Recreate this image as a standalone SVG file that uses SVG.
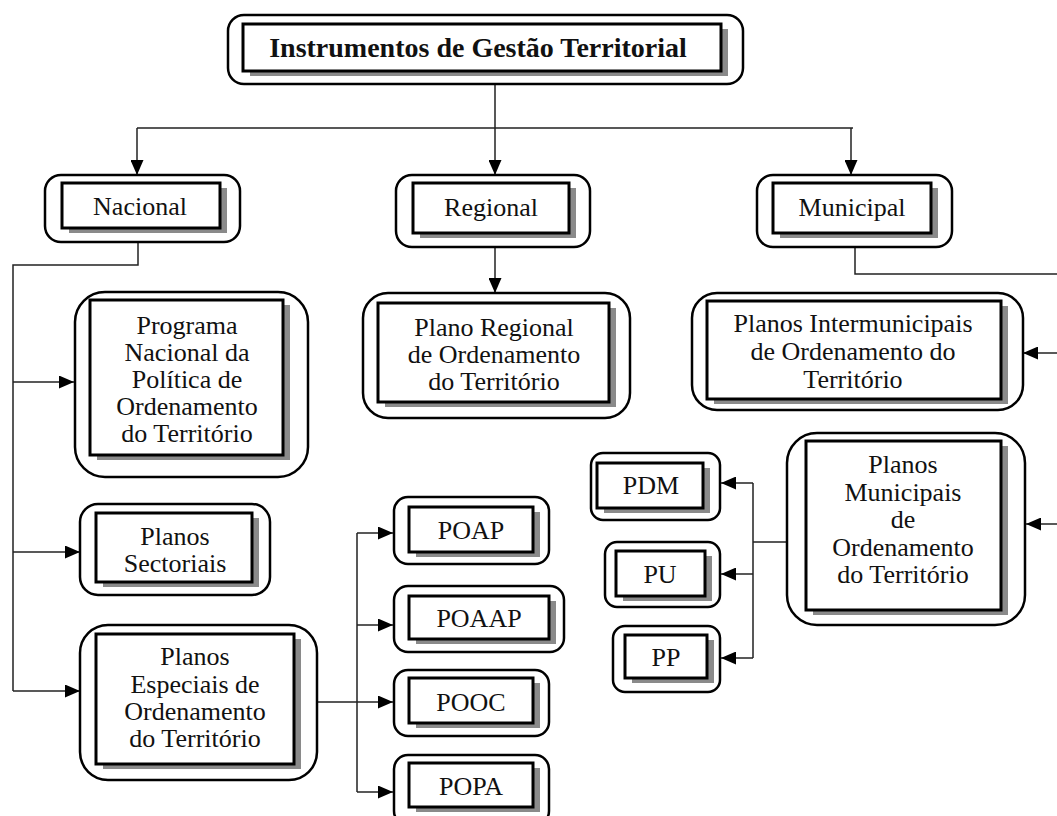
<svg xmlns="http://www.w3.org/2000/svg" width="1057" height="816" viewBox="0 0 1057 816">
<style>
.outer{fill:#fff;stroke:#000;stroke-width:2.5}
.shadow{fill:#8a8a8a}
.inner{fill:#fff;stroke:#000;stroke-width:3}
.t{font-family:"Liberation Serif","Times New Roman",serif;font-size:26px;text-anchor:middle;fill:#111}
.b{font-weight:bold;font-size:28px}
.conn{stroke:#222;stroke-width:1.5;fill:none}
.arr{marker-end:url(#ah)}
</style>
<defs>
<marker id="ah" markerUnits="userSpaceOnUse" markerWidth="15" markerHeight="13" refX="15" refY="6.5" orient="auto">
<path d="M0,0 L15,6.5 L0,13 z" fill="#000"/>
</marker>
</defs>
<rect width="1057" height="816" fill="#fff"/>
<g id="connectors">
<path class="conn" d="M495,84 V128 M137,128 H853"/>
<path class="conn arr" d="M137,128 V175"/>
<path class="conn arr" d="M495,128 V175"/>
<path class="conn arr" d="M851,128 V175"/>
<path class="conn" d="M138,242 V265 H13 V691"/>
<path class="conn arr" d="M13,382 H74"/>
<path class="conn arr" d="M13,552 H80"/>
<path class="conn arr" d="M13,691 H80"/>
<path class="conn arr" d="M495,247 V293"/>
<path class="conn" d="M855,247 V274 H1057"/>
<path class="conn arr" d="M1057,353 H1023"/>
<path class="conn arr" d="M1057,524 H1026"/>
<path class="conn" d="M317,702 H357 M357,533 V792"/>
<path class="conn arr" d="M357,533 H393"/>
<path class="conn arr" d="M357,625 H393"/>
<path class="conn arr" d="M357,702 H393"/>
<path class="conn arr" d="M357,792 H393"/>
<path class="conn" d="M787,542 H753 M753,483 V658"/>
<path class="conn arr" d="M753,483 H721"/>
<path class="conn arr" d="M753,574 H721"/>
<path class="conn arr" d="M753,658 H721"/>
</g>
<g id="n-titulo">
<rect class="outer" x="228" y="15" width="515" height="69" rx="16"/>
<rect class="shadow" x="250" y="29" width="478" height="47"/>
<rect class="inner" x="243" y="24" width="478" height="47"/>
<text class="t b" x="478" y="57">Instrumentos de Gestão Territorial</text>
</g>
<g id="n-nacional">
<rect class="outer" x="45" y="175" width="195" height="67" rx="16"/>
<rect class="shadow" x="69" y="188" width="158" height="45"/>
<rect class="inner" x="62" y="183" width="158" height="45"/>
<text class="t" x="140" y="215">Nacional</text>
</g>
<g id="n-regional">
<rect class="outer" x="396" y="175" width="194" height="72" rx="16"/>
<rect class="shadow" x="420" y="188" width="156" height="50"/>
<rect class="inner" x="413" y="183" width="156" height="50"/>
<text class="t" x="491" y="216">Regional</text>
</g>
<g id="n-municipal">
<rect class="outer" x="757" y="175" width="195" height="72" rx="16"/>
<rect class="shadow" x="780" y="188" width="158" height="50"/>
<rect class="inner" x="773" y="183" width="158" height="50"/>
<text class="t" x="852" y="216">Municipal</text>
</g>
<g id="n-pnpot">
<rect class="outer" x="75" y="292" width="233" height="185" rx="30"/>
<rect class="shadow" x="97" y="305" width="193" height="155"/>
<rect class="inner" x="90" y="300" width="193" height="155"/>
<text class="t" x="187" y="334">Programa</text>
<text class="t" x="187" y="361">Nacional da</text>
<text class="t" x="187" y="388">Política de</text>
<text class="t" x="187" y="415">Ordenamento</text>
<text class="t" x="187" y="442">do Território</text>
</g>
<g id="n-sectoriais">
<rect class="outer" x="80" y="504" width="190" height="91" rx="18"/>
<rect class="shadow" x="103" y="518" width="156" height="69"/>
<rect class="inner" x="96" y="513" width="156" height="69"/>
<text class="t" x="175" y="545">Planos</text>
<text class="t" x="175" y="572">Sectoriais</text>
</g>
<g id="n-especiais">
<rect class="outer" x="80" y="625" width="237" height="155" rx="28"/>
<rect class="shadow" x="103" y="639" width="198" height="130"/>
<rect class="inner" x="96" y="634" width="198" height="130"/>
<text class="t" x="195" y="665">Planos</text>
<text class="t" x="195" y="693">Especiais de</text>
<text class="t" x="195" y="720">Ordenamento</text>
<text class="t" x="195" y="747">do Território</text>
</g>
<g id="n-prot">
<rect class="outer" x="363" y="293" width="267" height="125" rx="25"/>
<rect class="shadow" x="385" y="308" width="231" height="99"/>
<rect class="inner" x="378" y="303" width="231" height="99"/>
<text class="t" x="494" y="336">Plano Regional</text>
<text class="t" x="494" y="363">de Ordenamento</text>
<text class="t" x="494" y="390">do Território</text>
</g>
<g id="n-pimot">
<rect class="outer" x="692" y="293" width="331" height="117" rx="25"/>
<rect class="shadow" x="714" y="306" width="294" height="98"/>
<rect class="inner" x="707" y="301" width="294" height="98"/>
<text class="t" x="853" y="332">Planos Intermunicipais</text>
<text class="t" x="853" y="360">de Ordenamento do</text>
<text class="t" x="853" y="388">Território</text>
</g>
<g id="n-pmot">
<rect class="outer" x="787" y="433" width="238" height="192" rx="30"/>
<rect class="shadow" x="813" y="446" width="195" height="169"/>
<rect class="inner" x="806" y="441" width="195" height="169"/>
<text class="t" x="903" y="473">Planos</text>
<text class="t" x="903" y="501">Municipais</text>
<text class="t" x="903" y="528">de</text>
<text class="t" x="903" y="556">Ordenamento</text>
<text class="t" x="903" y="583">do Território</text>
</g>
<g id="n-pdm">
<rect class="outer" x="591" y="453" width="129" height="67" rx="12"/>
<rect class="shadow" x="604" y="468" width="106" height="45"/>
<rect class="inner" x="597" y="463" width="106" height="45"/>
<text class="t" x="651" y="494">PDM</text>
</g>
<g id="n-pu">
<rect class="outer" x="605" y="542" width="115" height="65" rx="12"/>
<rect class="shadow" x="623" y="556" width="89" height="45"/>
<rect class="inner" x="616" y="551" width="89" height="45"/>
<text class="t" x="660" y="583">PU</text>
</g>
<g id="n-pp">
<rect class="outer" x="613" y="626" width="107" height="66" rx="12"/>
<rect class="shadow" x="632" y="640" width="82" height="43"/>
<rect class="inner" x="625" y="635" width="82" height="43"/>
<text class="t" x="666" y="666">PP</text>
</g>
<g id="n-poap">
<rect class="outer" x="394" y="497" width="155" height="67" rx="14"/>
<rect class="shadow" x="416" y="512" width="124" height="45"/>
<rect class="inner" x="409" y="507" width="124" height="45"/>
<text class="t" x="471" y="539">POAP</text>
</g>
<g id="n-poaap">
<rect class="outer" x="394" y="586" width="170" height="66" rx="14"/>
<rect class="shadow" x="416" y="601" width="140" height="43"/>
<rect class="inner" x="409" y="596" width="140" height="43"/>
<text class="t" x="479" y="627">POAAP</text>
</g>
<g id="n-pooc">
<rect class="outer" x="394" y="670" width="155" height="66" rx="14"/>
<rect class="shadow" x="416" y="683" width="124" height="45"/>
<rect class="inner" x="409" y="678" width="124" height="45"/>
<text class="t" x="471" y="711">POOC</text>
</g>
<g id="n-popa">
<rect class="outer" x="394" y="755" width="155" height="70" rx="14"/>
<rect class="shadow" x="416" y="768" width="124" height="44"/>
<rect class="inner" x="409" y="763" width="124" height="44"/>
<text class="t" x="471" y="795">POPA</text>
</g>
</svg>
